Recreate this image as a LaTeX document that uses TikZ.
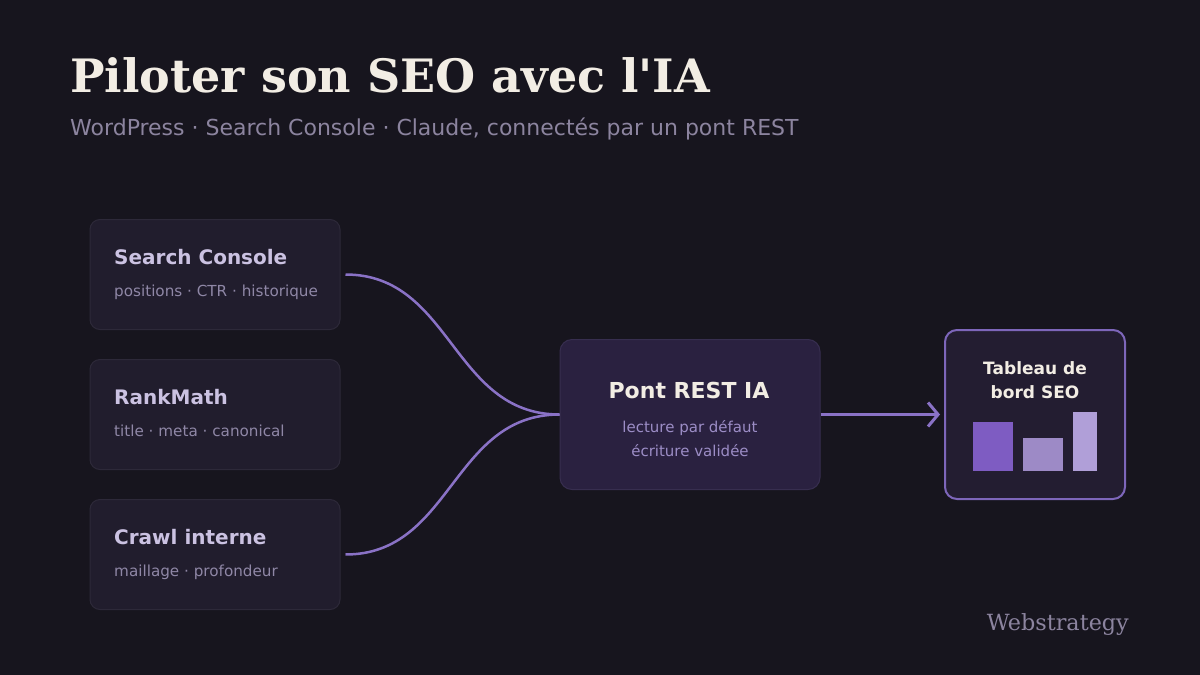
\documentclass[tikz,border=0pt]{standalone}
\usepackage{fontspec}
\setmainfont{DejaVu Sans}
\newfontfamily\serifface{DejaVu Serif}
\usetikzlibrary{arrows.meta}

\definecolor{bgdark}{HTML}{17151E}
\definecolor{boxfill}{HTML}{211D2D}
\definecolor{boxline}{HTML}{2D2939}
\definecolor{pontfill}{HTML}{2A2140}
\definecolor{pontline}{HTML}{372E4F}
\definecolor{dashfill}{HTML}{231D31}
\definecolor{dashline}{HTML}{7D66BA}
\definecolor{linkcol}{HTML}{8A72C6}
\definecolor{titlecol}{HTML}{F2EDE4}
\definecolor{subcol}{HTML}{8C849F}
\definecolor{boxtitle}{HTML}{CBC2E2}
\definecolor{boxsub}{HTML}{8F87A6}
\definecolor{pontsub}{HTML}{9C8DC6}
\definecolor{barA}{HTML}{7E5CC2}
\definecolor{barB}{HTML}{9D8AC6}
\definecolor{barC}{HTML}{B09FD8}

\begin{document}
\begin{tikzpicture}[x=1pt, y=-1pt,
    srcbox/.style={draw=boxline, fill=boxfill, line width=1pt, rounded corners=10pt, minimum width=250pt, minimum height=110pt, inner sep=0pt},
    srctitle/.style={anchor=base west, inner sep=0pt, text=boxtitle, font=\fontsize{20}{24}\selectfont\bfseries},
    srcsub/.style={anchor=base west, inner sep=0pt, text=boxsub, font=\fontsize{15.2}{18}\selectfont},
    link/.style={draw=linkcol, line width=2.5pt}]
    % background
    \fill[bgdark] (0,0) rectangle (1200,675);
    \useasboundingbox (0,0) rectangle (1200,675);
    % heading
    \node[anchor=base west, inner sep=0pt, text=titlecol, font=\serifface\fontsize{46}{52}\selectfont\bfseries] (title) at (70,92) {Piloter son SEO avec l'IA};
    \node[anchor=base west, inner sep=0pt, text=subcol, font=\fontsize{22}{26}\selectfont] (subtitle) at (70,135) {WordPress · Search Console · Claude, connectés par un pont REST};
    % sources
    \node[srcbox] (sc) at (215,274.5) {};
    \node[srctitle] (scT) at (114,264) {Search Console};
    \node[srcsub] (scS) at (114,296) {positions · CTR · historique};
    \node[srcbox] (rm) at (215,414.5) {};
    \node[srctitle] (rmT) at (114,404) {RankMath};
    \node[srcsub] (rmS) at (114,436) {title · meta · canonical};
    \node[srcbox] (cr) at (215,554.5) {};
    \node[srctitle] (crT) at (114,544) {Crawl interne};
    \node[srcsub] (crS) at (114,576) {maillage · profondeur};
    % bridge
    \node[draw=pontline, fill=pontfill, line width=1pt, rounded corners=12pt, minimum width=260pt, minimum height=150pt, inner sep=0pt] (pont) at (690,414.5) {};
    \node[anchor=base, inner sep=0pt, text=titlecol, font=\fontsize{22}{26}\selectfont\bfseries] (pontT) at (689,398) {Pont REST IA};
    \node[anchor=base, inner sep=0pt, text=pontsub, font=\fontsize{15}{18}\selectfont] (pontS1) at (690,432) {lecture par défaut};
    \node[anchor=base, inner sep=0pt, text=pontsub, font=\fontsize{15}{18}\selectfont] (pontS2) at (690,456) {écriture validée};
    % dashboard
    \node[draw=dashline, fill=dashfill, line width=2pt, rounded corners=12pt, minimum width=180pt, minimum height=169pt, inner sep=0pt] (dash) at (1035,414.5) {};
    \node[anchor=base, inner sep=0pt, text=titlecol, font=\fontsize{17}{20}\selectfont\bfseries] (dashT1) at (1035,374) {Tableau de};
    \node[anchor=base, inner sep=0pt, text=titlecol, font=\fontsize{17}{20}\selectfont\bfseries] (dashT2) at (1035,398) {bord SEO};
    \fill[barA] (973,422) rectangle (1013,471);
    \fill[barB] (1023,438) rectangle (1063,471);
    \fill[barC] (1073,412) rectangle (1097,471);
    % links
    \draw[link] ([xshift=5pt]sc.east) .. controls (452,274.5) and (452,414.5) .. (pont.west);
    \draw[link] ([xshift=5pt]cr.east) .. controls (452,554.5) and (452,414.5) .. (pont.west);
    \draw[link, line width=3pt, -{Straight Barb[length=10pt, width=24pt]}] (pont.east) -- ([xshift=-4pt]dash.west);
    % signature
    \node[anchor=base east, inner sep=0pt, text=subcol, font=\serifface\fontsize{22.3}{26}\selectfont] (sign) at (1129,630) {Webstrategy};
\end{tikzpicture}
\end{document}
